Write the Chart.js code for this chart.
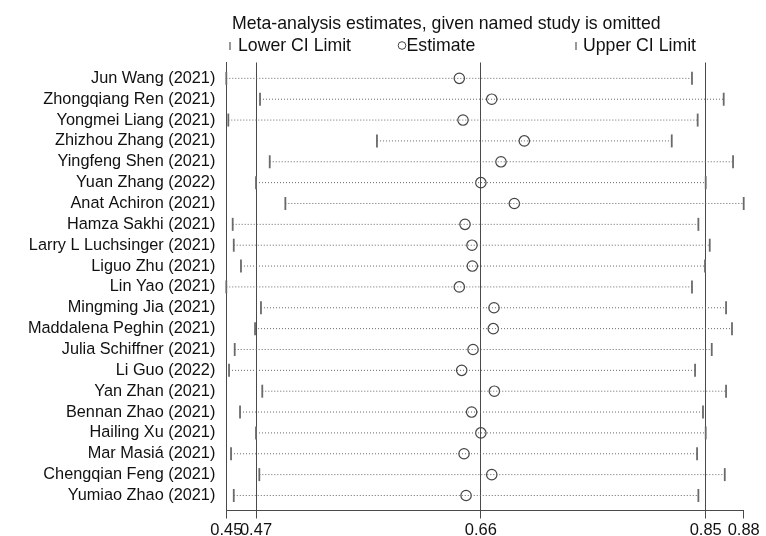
<!DOCTYPE html>
<html>
<head>
<meta charset="utf-8">
<script src="https://cdn.jsdelivr.net/npm/chart.js@4"></script>
<style>
  html, body { margin: 0; padding: 0; background: #fff; }
  canvas { display: block; }
</style>
</head>
<body>
<canvas id="c" width="766" height="536"></canvas>
<script>
const titleText = 'Meta-analysis estimates, given named study is omitted';
const legendLabels = ['Lower CI Limit', 'Estimate', 'Upper CI Limit'];

const studies = [
  'Jun Wang (2021)', 'Zhongqiang Ren (2021)', 'Yongmei Liang (2021)', 'Zhizhou Zhang (2021)',
  'Yingfeng Shen (2021)', 'Yuan Zhang (2022)', 'Anat Achiron (2021)', 'Hamza Sakhi (2021)',
  'Larry L Luchsinger (2021)', 'Liguo Zhu (2021)', 'Lin Yao (2021)', 'Mingming Jia (2021)',
  'Maddalena Peghin (2021)', 'Julia Schiffner (2021)', 'Li Guo (2022)', 'Yan Zhan (2021)',
  'Bennan Zhao (2021)', 'Hailing Xu (2021)', 'Mar Masiá (2021)', 'Chengqian Feng (2021)',
  'Yumiao Zhao (2021)'
];
const lowerCI = [
  0.4449, 0.4734, 0.4466, 0.5722, 0.4816, 0.4700, 0.4948, 0.4503, 0.4512, 0.4573, 0.4449,
  0.4742, 0.4692, 0.4520, 0.4472, 0.4753, 0.4565, 0.4700, 0.4489, 0.4728, 0.4512
];
const estimates = [
  0.6418, 0.6692, 0.6449, 0.6967, 0.6770, 0.6600, 0.6883, 0.6466, 0.6525, 0.6528, 0.6418,
  0.6711, 0.6705, 0.6534, 0.6438, 0.6714, 0.6522, 0.6600, 0.6458, 0.6692, 0.6475
];
const upperCI = [
  0.8384, 0.8652, 0.8432, 0.8213, 0.8731, 0.8500, 0.8821, 0.8438, 0.8534, 0.8494, 0.8384,
  0.8672, 0.8722, 0.8551, 0.8410, 0.8672, 0.8477, 0.8500, 0.8427, 0.8661, 0.8438
];
const xTickValues = [0.4449, 0.47, 0.66, 0.85, 0.8821];
const xTickLabels = ['0.45', '0.47', '0.66', '0.85', '0.88'];

const FONT = '"Liberation Sans", Arial, sans-serif';

const dotted = [];
studies.forEach((s, i) => {
  dotted.push({ x: lowerCI[i], y: i }, { x: upperCI[i], y: i }, { x: NaN, y: NaN });
});

const headerPlugin = {
  id: 'header',
  afterDraw(chart) {
    const ctx = chart.ctx;
    ctx.save();
    ctx.fillStyle = '#111';
    ctx.font = '17.7px ' + FONT;
    ctx.textBaseline = 'alphabetic';
    ctx.textAlign = 'left';
    ctx.fillText(titleText, 232, 29);
    // legend
    ctx.strokeStyle = '#777';
    ctx.lineWidth = 1.5;
    ctx.beginPath(); ctx.moveTo(230, 42); ctx.lineTo(230, 50); ctx.stroke();
    ctx.beginPath(); ctx.moveTo(576, 42); ctx.lineTo(576, 50); ctx.stroke();
    ctx.strokeStyle = '#444';
    ctx.lineWidth = 1;
    ctx.beginPath(); ctx.arc(402, 45.5, 3.8, 0, Math.PI * 2); ctx.stroke();
    ctx.fillText(legendLabels[0], 238, 51);
    ctx.fillText(legendLabels[1], 406.5, 51);
    ctx.fillText(legendLabels[2], 583, 51);
    ctx.restore();
  }
};

new Chart(document.getElementById('c'), {
  type: 'scatter',
  data: {
    datasets: [
      {
        data: dotted,
        showLine: true,
        spanGaps: false,
        borderColor: '#666',
        borderWidth: 1,
        borderDash: [1, 2],
        pointRadius: 0,
        clip: false
      },
      {
        data: lowerCI.map((v, i) => ({ x: v, y: i })),
        pointStyle: 'line',
        rotation: 90,
        radius: 6.5,
        borderColor: '#6a6a6a',
        borderWidth: 1.8,
        clip: false
      },
      {
        data: upperCI.map((v, i) => ({ x: v, y: i })),
        pointStyle: 'line',
        rotation: 90,
        radius: 6.5,
        borderColor: '#6a6a6a',
        borderWidth: 1.8,
        clip: false
      },
      {
        data: estimates.map((v, i) => ({ x: v, y: i })),
        pointStyle: 'circle',
        radius: 5.2,
        borderColor: '#444',
        borderWidth: 1.2,
        backgroundColor: 'rgba(0,0,0,0)',
        clip: false
      }
    ]
  },
  options: {
    responsive: false,
    devicePixelRatio: 1,
    animation: false,
    events: [],
    layout: { padding: { top: 62.5, right: 22.3, bottom: 0, left: 0 } },
    plugins: {
      legend: { display: false },
      title: { display: false },
      tooltip: { enabled: false }
    },
    scales: {
      x: {
        type: 'linear',
        min: xTickValues[0],
        max: xTickValues[xTickValues.length - 1],
        afterBuildTicks: (scale) => { scale.ticks = xTickValues.map(v => ({ value: v })); },
        afterFit: (scale) => { scale.height = 25.5; },
        ticks: {
          autoSkip: false,
          maxRotation: 0,
          minRotation: 0,
          padding: 4,
          color: '#111',
          font: { family: FONT, size: 16.5, lineHeight: 1 },
          callback: (v, i) => xTickLabels[i]
        },
        grid: {
          display: true,
          drawOnChartArea: true,
          drawTicks: true,
          tickLength: 8,
          lineWidth: 1,
          color: (ctx) => (ctx.index === xTickValues.length - 1 ? 'rgba(0,0,0,0)' : '#4a4a4a'),
          tickColor: '#4a4a4a'
        },
        border: { display: true, color: '#4a4a4a', width: 1 }
      },
      y: {
        type: 'linear',
        reverse: true,
        min: -0.76,
        max: 20.72,
        afterBuildTicks: (scale) => { scale.ticks = studies.map((s, i) => ({ value: i })); },
        afterFit: (scale) => { scale.width = 226.3; },
        ticks: {
          autoSkip: false,
          padding: 11,
          color: '#111',
          font: { family: FONT, size: 16.3 },
          callback: (v) => studies[v]
        },
        grid: { display: true, drawOnChartArea: false, drawTicks: false },
        border: { display: true, color: '#4a4a4a', width: 1 }
      }
    }
  },
  plugins: [headerPlugin]
});
</script>
</body>
</html>
